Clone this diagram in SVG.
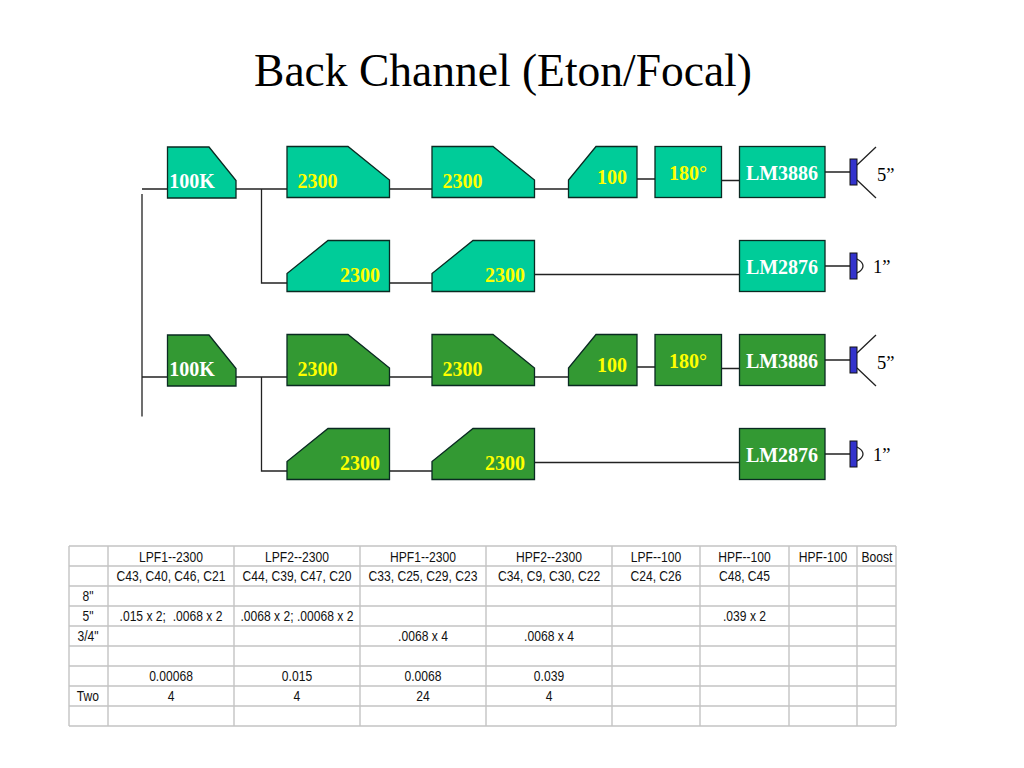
<svg xmlns="http://www.w3.org/2000/svg" width="1024" height="768" viewBox="0 0 1024 768">
<style>
.n{stroke:#0a2a22;stroke-width:1.3}
.t{fill:#00cc99}.g{fill:#339933}
.l{font:bold 20px "Liberation Serif",serif;text-anchor:middle}
.y{fill:#ffff00}.w{fill:#ffffff}
.c{fill:none;stroke:#222;stroke-width:1.3}
.sp{fill:#3333cc;stroke:#111;stroke-width:1}
.st{font:18.5px "Liberation Serif",serif;fill:#000}
.grid{stroke:#c4c4c4;stroke-width:1.4;fill:none}
.d{font:14px "Liberation Sans",sans-serif;fill:#111;text-anchor:middle;white-space:pre}
#title{font:45.500px "Liberation Serif",serif;text-anchor:middle;fill:#000}
</style>
<defs>
<path id="s1" d="M0.500 0.500H42L69 34V51.500H0.500Z"/>
<path id="s2" d="M0 0H61L102.500 33.500V51H0Z"/>
<path id="s3" d="M41 0H102.500V51H0V33Z"/>
<path id="s4" d="M27.500 0H68.500V51H0V33.500Z"/>
</defs>
<rect width="1024" height="768" fill="#fff"/>
<text id="title" x="503" y="86">Back Channel (Eton/Focal)</text>
<g id="connectors" class="c">
<path d="M142 189H167.500M142 194V416.500M142 377H167.500"/>
<path d="M236 189H287M261.500 189V283H287M389.500 189H432M534.500 189H568.500M637 179H655M721.500 180.500H739M825 172H850"/>
<path d="M389.500 283H432M534.500 274.500H739M825 266H850"/>
<path d="M236 377H287M261.500 377V471H287M389.500 377H432M534.500 377H568.500M637 367H655M721.500 368.500H739M825 360H850"/>
<path d="M389.500 471H432M534.500 462.500H739M825 454H850"/>
</g>
<g id="n1"><use href="#s1" x="167" y="146.500" class="n t"/><text class="l w" x="192" y="188">100K</text></g>
<g id="n2"><use href="#s2" x="287" y="146.500" class="n t"/><text class="l y" x="317.500" y="188">2300</text></g>
<g id="n3"><use href="#s2" x="432" y="146.500" class="n t"/><text class="l y" x="462.500" y="188">2300</text></g>
<g id="n4"><use href="#s4" x="568.500" y="146.500" class="n t"/><text class="l y" x="612" y="184">100</text></g>
<g id="n5"><rect x="655" y="146.500" width="66.500" height="51" class="n t"/><text class="l y" x="688" y="180">180°</text></g>
<g id="n6"><rect x="739.500" y="146.500" width="85.500" height="51" class="n t"/><text class="l w" x="782" y="180">LM3886</text></g>
<g id="n7"><use href="#s3" x="287" y="240.500" class="n t"/><text class="l y" x="360" y="282">2300</text></g>
<g id="n8"><use href="#s3" x="432" y="240.500" class="n t"/><text class="l y" x="505" y="282">2300</text></g>
<g id="n9"><rect x="739.500" y="240.500" width="85.500" height="51" class="n t"/><text class="l w" x="782" y="273.500">LM2876</text></g>
<g id="n10"><use href="#s1" x="167" y="334.500" class="n g"/><text class="l w" x="192" y="376">100K</text></g>
<g id="n11"><use href="#s2" x="287" y="334.500" class="n g"/><text class="l y" x="317.500" y="376">2300</text></g>
<g id="n12"><use href="#s2" x="432" y="334.500" class="n g"/><text class="l y" x="462.500" y="376">2300</text></g>
<g id="n13"><use href="#s4" x="568.500" y="334.500" class="n g"/><text class="l y" x="612" y="372">100</text></g>
<g id="n14"><rect x="655" y="334.500" width="66.500" height="51" class="n g"/><text class="l y" x="688" y="367.500">180°</text></g>
<g id="n15"><rect x="739.500" y="334.500" width="85.500" height="51" class="n g"/><text class="l w" x="782" y="367.500">LM3886</text></g>
<g id="n16"><use href="#s3" x="287" y="428.500" class="n g"/><text class="l y" x="360" y="470">2300</text></g>
<g id="n17"><use href="#s3" x="432" y="428.500" class="n g"/><text class="l y" x="505" y="470">2300</text></g>
<g id="n18"><rect x="739.500" y="428.500" width="85.500" height="51" class="n g"/><text class="l w" x="782" y="461.500">LM2876</text></g>
<g id="spk1"><path class="c" d="M857 165L876 147M857 180L876 198"/><rect class="sp" x="850" y="159" width="7" height="26"/><text class="st" x="877" y="181">5”</text></g>
<g id="spk2"><path class="c" d="M857 259Q863 262 863 266Q863 270 857 273"/><rect class="sp" x="850" y="253" width="7" height="26"/><text class="st" x="873" y="273">1”</text></g>
<g id="spk3"><path class="c" d="M857 353L876 335M857 368L876 386"/><rect class="sp" x="850" y="347" width="7" height="26"/><text class="st" x="877" y="369">5”</text></g>
<g id="spk4"><path class="c" d="M857 447Q863 450 863 454Q863 458 857 461"/><rect class="sp" x="850" y="441" width="7" height="26"/><text class="st" x="873" y="461">1”</text></g>
<g id="table">
<path class="grid" d="M69 546H896M69 566H896M69 586H896M69 606H896M69 626H896M69 646H896M69 666H896M69 686H896M69 706H896M69 726H896M69 546V726M108 546V726M234 546V726M360 546V726M486 546V726M612 546V726M700 546V726M789 546V726M857 546V726M896 546V726"/>
<g class="d" transform="scale(0.865 1)">
<text x="197.700" y="561.500">LPF1--2300</text><text x="343.350" y="561.500">LPF2--2300</text><text x="489" y="561.500">HPF1--2300</text><text x="634.700" y="561.500">HPF2--2300</text><text x="758.400" y="561.500">LPF--100</text><text x="860.700" y="561.500">HPF--100</text><text x="951.450" y="561.500">HPF-100</text><text x="1013.900" y="561.500">Boost</text>
<text x="197.700" y="581.500">C43, C40, C46, C21</text><text x="343.350" y="581.500">C44, C39, C47, C20</text><text x="489" y="581.500">C33, C25, C29, C23</text><text x="634.700" y="581.500">C34, C9, C30, C22</text><text x="758.400" y="581.500">C24, C26</text><text x="860.700" y="581.500">C48, C45</text>
<text x="101.700" y="601.500">8"</text>
<text x="101.700" y="621.500">5"</text><text x="197.700" y="621.500" xml:space="preserve">.015 x 2;  .0068 x 2</text><text x="343.350" y="621.500">.0068 x 2; .00068 x 2</text><text x="860.700" y="621.500">.039 x 2</text>
<text x="101.700" y="641.500">3/4"</text><text x="489" y="641.500">.0068 x 4</text><text x="634.700" y="641.500">.0068 x 4</text>
<text x="197.700" y="681.500">0.00068</text><text x="343.350" y="681.500">0.015</text><text x="489" y="681.500">0.0068</text><text x="634.700" y="681.500">0.039</text>
<text x="101.700" y="701.500">Two</text><text x="197.700" y="701.500">4</text><text x="343.350" y="701.500">4</text><text x="489" y="701.500">24</text><text x="634.700" y="701.500">4</text>
</g>
</g>
</svg>
